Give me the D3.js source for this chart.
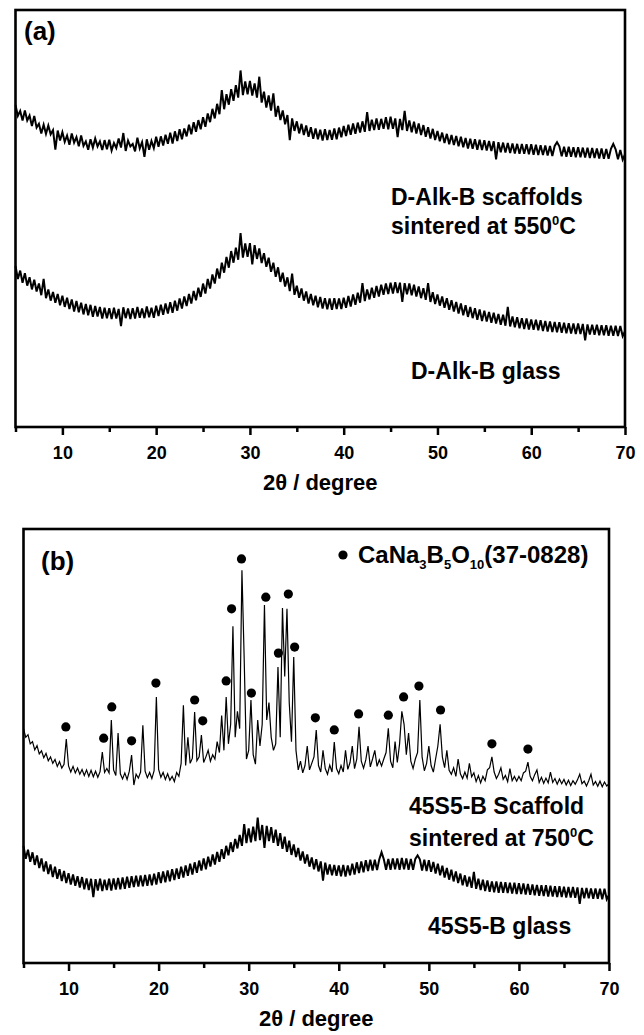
<!DOCTYPE html>
<html>
<head>
<meta charset="utf-8">
<script src="https://cdn.jsdelivr.net/npm/d3@7"></script>
<style>
  body { margin: 0; background: #fff; }
  svg { display: block; font-family: "Liberation Sans", Arial, sans-serif; font-weight: bold; }
</style>
</head>
<body>
<svg id="chart" width="644" height="1035"></svg>
<script>
"use strict";

// XRD patterns, sampled every 0.25 deg of 2-theta from 5 to 70 (a.u., offset as plotted)
const twoThetaStart = 5;
const twoThetaStep = 0.25;

// (a) D-Alk-B scaffolds sintered at 550 C
const dAlkScaffold = [
  77.2, 74.6, 75.8, 73.5, 75.9, 73.5, 74.7, 72.2, 74.6, 71.8, 72.7, 70.4, 72.5, 70.3, 72.3, 70.2, 71.2, 66.5, 71.1, 68.7,
  70.7, 68.4, 69.9, 67.7, 70.4, 68.2, 69.5, 67.3, 69.9, 67.4, 68.5, 66.5, 69.0, 67.0, 69.2, 67.3, 68.5, 66.4, 68.8, 66.6,
  68.9, 66.3, 68.1, 66.9, 69.2, 67.0, 70.5, 66.2, 68.7, 67.3, 67.9, 66.1, 69.4, 66.8, 68.3, 64.8, 69.0, 66.5, 68.6, 66.9,
  69.6, 67.2, 69.7, 67.5, 70.1, 67.9, 70.6, 68.0, 70.9, 68.6, 71.4, 69.0, 71.6, 69.7, 72.5, 70.2, 73.1, 70.8, 73.6, 71.4,
  74.3, 72.0, 75.2, 73.1, 76.3, 74.0, 77.5, 75.0, 80.8, 76.2, 79.8, 77.3, 81.0, 78.2, 82.0, 79.0, 85.5, 79.6, 82.9, 79.8,
  83.0, 79.5, 82.4, 79.0, 84.0, 77.8, 80.4, 76.6, 79.5, 75.9, 80.0, 74.4, 77.0, 73.6, 75.9, 72.6, 74.8, 68.8, 74.0, 71.0,
  73.3, 70.4, 72.7, 70.0, 72.3, 69.6, 71.9, 69.1, 71.6, 69.0, 71.3, 68.7, 71.4, 68.8, 71.2, 68.9, 71.6, 69.0, 71.8, 69.5,
  72.2, 69.8, 72.5, 70.1, 72.8, 70.3, 73.0, 70.6, 73.3, 70.8, 75.5, 71.0, 73.7, 71.2, 74.0, 71.3, 73.9, 71.5, 74.3, 71.4,
  74.4, 71.5, 74.0, 69.5, 73.9, 71.2, 75.8, 71.0, 73.5, 70.7, 73.2, 70.4, 72.8, 70.0, 72.4, 69.6, 71.9, 69.2, 71.5, 68.8,
  71.0, 68.5, 70.6, 68.1, 70.3, 67.8, 70.0, 67.6, 69.8, 67.3, 69.6, 67.1, 69.3, 66.8, 69.1, 66.7, 69.0, 66.5, 68.9, 66.4,
  68.8, 66.3, 68.6, 66.2, 68.5, 64.2, 68.3, 65.9, 68.2, 65.8, 68.1, 65.7, 68.0, 65.6, 67.9, 65.5, 67.9, 65.5, 67.8, 65.4,
  67.8, 65.3, 67.7, 65.2, 67.6, 65.2, 67.5, 65.1, 67.4, 65.0, 67.4, 68.3, 67.3, 64.9, 67.2, 64.8, 67.2, 64.8, 67.1, 64.7,
  67.1, 64.7, 67.0, 64.6, 67.0, 64.5, 66.9, 64.5, 66.8, 64.4, 66.8, 64.3, 66.7, 64.3, 66.7, 67.9, 66.6, 64.2, 66.4, 64.1, 65.4
];

// (a) D-Alk-B glass
const dAlkGlass = [
  38.6, 35.5, 37.5, 34.6, 36.9, 33.9, 35.9, 33.0, 35.3, 32.5, 34.4, 31.6, 35.5, 30.9, 33.0, 30.3, 32.4, 29.8, 31.9, 29.2,
  31.5, 28.8, 31.0, 28.3, 30.6, 27.7, 30.2, 27.5, 29.8, 27.0, 29.5, 26.8, 29.3, 26.4, 29.0, 26.5, 28.8, 26.0, 28.6, 26.1,
  28.5, 25.9, 28.6, 26.0, 28.3, 24.2, 28.7, 26.1, 28.4, 25.9, 28.5, 26.0, 28.8, 26.2, 28.4, 26.1, 28.9, 26.3, 28.6, 26.2,
  29.1, 26.6, 29.3, 26.9, 29.6, 27.2, 29.9, 27.4, 30.3, 27.9, 30.8, 28.4, 31.3, 29.0, 31.9, 29.6, 32.6, 30.4, 33.4, 31.2,
  34.4, 32.0, 35.5, 33.2, 36.6, 34.4, 38.0, 35.6, 39.4, 37.0, 40.8, 38.2, 42.2, 39.4, 43.0, 40.1, 46.5, 40.6, 44.0, 40.8,
  44.1, 39.0, 43.6, 40.3, 42.8, 39.3, 41.7, 38.4, 40.6, 37.2, 39.4, 36.0, 38.3, 34.8, 37.0, 33.7, 35.9, 32.6, 36.8, 31.7,
  33.9, 31.0, 33.2, 30.3, 32.5, 29.6, 31.9, 29.2, 31.5, 28.7, 31.2, 28.4, 30.9, 28.2, 30.8, 28.1, 30.9, 28.3, 30.8, 28.3,
  31.0, 28.6, 31.4, 28.9, 31.8, 29.3, 32.2, 29.8, 34.5, 30.2, 33.0, 30.6, 33.4, 31.0, 33.8, 31.3, 34.1, 31.7, 34.4, 31.9,
  34.6, 32.0, 34.7, 32.1, 34.6, 30.0, 34.5, 31.8, 34.4, 31.6, 34.1, 31.3, 33.7, 30.9, 33.3, 30.5, 34.5, 30.0, 32.3, 29.5,
  31.8, 29.1, 31.3, 28.6, 30.9, 28.1, 30.4, 27.7, 30.0, 27.2, 29.6, 26.8, 29.2, 26.4, 28.8, 26.1, 28.5, 25.7, 28.2, 25.4,
  27.9, 25.3, 27.6, 25.0, 27.4, 24.8, 27.1, 24.5, 26.9, 24.3, 28.8, 24.1, 26.5, 23.9, 26.3, 23.7, 26.1, 23.5, 26.0, 23.4,
  25.8, 23.3, 25.7, 23.2, 25.6, 23.0, 25.4, 22.9, 25.3, 22.8, 25.2, 22.7, 25.1, 22.6, 25.0, 22.5, 24.9, 22.4, 24.8, 22.3,
  24.8, 22.3, 24.7, 20.8, 24.6, 22.2, 24.5, 22.1, 24.5, 22.0, 24.4, 22.0, 24.4, 21.9, 24.3, 21.9, 24.3, 21.8, 24.2, 21.8, 23.0
];

// (b) 45S5-B scaffold sintered at 750 C
const s45Scaffold = [
  54.0, 52.0, 52.6, 50.5, 51.0, 49.1, 50.1, 48.2, 48.9, 47.3, 48.3, 46.6, 47.5, 46.0, 46.9, 45.3, 46.4, 44.9, 45.8, 51.6,
  45.4, 44.0, 45.3, 43.8, 44.9, 43.5, 44.6, 43.2, 44.5, 43.0, 44.4, 42.9, 44.2, 42.8, 44.1, 48.6, 43.9, 44.8, 43.8, 56.0,
  44.5, 43.2, 53.0, 43.6, 42.4, 43.8, 42.3, 44.2, 47.9, 41.0, 43.5, 42.6, 44.0, 54.8, 44.2, 42.7, 43.9, 42.5, 44.3, 61.3,
  44.6, 42.8, 43.9, 42.3, 43.6, 42.1, 43.0, 41.8, 43.9, 43.0, 46.0, 59.4, 45.5, 52.0, 46.0, 47.2, 57.8, 46.6, 47.5, 52.5,
  46.2, 47.5, 49.0, 46.5, 48.0, 47.0, 51.0, 48.5, 57.0, 49.0, 61.3, 50.5, 55.0, 77.6, 52.0, 58.0, 54.0, 90.5, 70.0, 47.0,
  49.0, 60.6, 48.0, 45.8, 56.0, 50.0, 55.0, 82.5, 56.0, 60.0, 52.0, 49.0, 50.5, 68.2, 52.0, 81.8, 66.0, 81.6, 60.0, 51.0,
  70.5, 49.0, 44.5, 46.5, 43.8, 45.5, 50.0, 44.5, 46.0, 47.5, 53.7, 45.5, 44.0, 49.0, 44.8, 43.5, 45.6, 44.0, 50.9, 44.8,
  43.6, 45.5, 44.0, 49.0, 44.6, 46.2, 50.0, 44.8, 47.0, 54.4, 46.5, 44.9, 46.8, 50.0, 45.2, 47.0, 49.0, 45.3, 46.8, 45.4,
  47.0, 48.5, 54.1, 46.5, 45.0, 51.0, 46.2, 50.5, 58.0, 55.0, 48.0, 53.0, 46.5, 44.8, 47.0, 48.5, 60.6, 47.5, 44.3, 46.0,
  50.0, 45.5, 44.0, 47.0, 50.0, 55.0, 47.5, 45.0, 49.0, 44.4, 43.5, 45.0, 43.0, 47.0, 43.6, 42.5, 44.0, 42.6, 46.0, 42.9,
  43.8, 41.8, 43.2, 41.5, 43.0, 42.0, 44.5, 45.0, 47.5, 44.0, 42.5, 43.5, 45.0, 42.3, 43.2, 41.8, 44.8, 42.0, 43.0, 41.9,
  43.0, 42.0, 43.8, 44.2, 46.3, 43.0, 42.0, 43.4, 44.5, 41.6, 42.8, 41.4, 42.6, 41.5, 44.0, 41.6, 42.5, 41.2, 42.4, 41.3,
  42.3, 41.0, 42.1, 40.9, 42.0, 41.2, 42.2, 43.5, 41.3, 41.9, 40.8, 42.0, 43.5, 41.0, 41.8, 40.7, 41.9, 40.6, 41.7, 40.8, 41.3
];

// (b) 45S5-B glass
const s45Glass = [
  27.0, 24.0, 26.1, 23.3, 25.5, 22.6, 24.8, 21.9, 24.1, 21.1, 23.4, 20.5, 22.7, 19.8, 22.2, 19.4, 21.6, 18.9, 21.2, 18.4,
  20.7, 18.1, 20.4, 17.8, 20.0, 17.4, 19.8, 17.0, 19.5, 16.8, 19.4, 15.2, 19.3, 16.7, 19.4, 16.6, 19.2, 16.8, 19.4, 16.7,
  19.5, 16.9, 19.6, 17.0, 19.7, 17.1, 19.9, 17.3, 20.0, 17.5, 20.1, 17.6, 20.2, 17.7, 20.3, 17.8, 20.4, 17.9, 20.6, 18.1,
  20.9, 18.4, 21.1, 18.6, 21.3, 18.8, 21.6, 19.1, 21.8, 19.4, 22.2, 19.7, 22.5, 20.1, 22.9, 20.4, 23.2, 20.8, 23.6, 21.3,
  24.1, 21.6, 24.5, 22.2, 25.0, 22.7, 25.6, 23.3, 26.2, 24.0, 27.0, 24.8, 27.8, 25.6, 28.6, 26.4, 29.5, 27.0, 32.0, 27.6,
  31.0, 27.8, 31.4, 28.1, 33.5, 28.3, 31.8, 26.5, 31.6, 28.1, 31.3, 27.7, 30.7, 27.0, 29.9, 26.3, 29.1, 25.6, 28.2, 24.9,
  27.3, 24.4, 26.5, 23.6, 25.7, 22.9, 25.0, 22.2, 24.3, 21.6, 23.9, 21.1, 23.4, 19.0, 23.1, 20.4, 22.7, 20.2, 22.6, 20.1,
  22.5, 20.0, 22.6, 19.9, 22.5, 20.2, 22.9, 20.4, 23.2, 20.7, 23.4, 20.9, 23.7, 21.2, 23.8, 21.3, 23.8, 21.4, 23.9, 25.5,
  23.9, 21.5, 24.0, 21.5, 24.1, 21.6, 24.1, 21.5, 24.2, 21.6, 24.1, 21.5, 24.0, 21.5, 24.0, 24.8, 23.9, 21.3, 23.8, 21.2,
  23.7, 21.0, 23.3, 20.6, 22.9, 20.2, 22.4, 19.7, 21.9, 19.2, 21.5, 18.8, 21.1, 18.4, 20.6, 17.9, 20.2, 17.6, 19.9, 17.3,
  21.0, 17.1, 19.4, 16.8, 19.2, 16.6, 19.0, 16.4, 18.8, 16.3, 18.8, 16.2, 18.7, 16.2, 18.6, 16.1, 18.5, 16.0, 18.5, 15.9,
  18.4, 15.9, 18.3, 15.8, 18.2, 15.7, 18.1, 15.6, 18.0, 15.5, 17.9, 15.4, 17.9, 15.3, 17.8, 15.3, 17.7, 15.2, 17.7, 15.2,
  17.6, 15.1, 17.5, 15.1, 17.5, 15.0, 17.4, 13.6, 17.3, 14.9, 17.3, 14.9, 17.2, 14.8, 17.2, 14.8, 17.1, 14.7, 17.1, 14.7, 15.7
];

// CaNa3B5O10 (37-0828) reflections marked with dots on the 45S5-B scaffold pattern
const markerAngles = [9.7, 13.9, 14.8, 17.0, 19.7, 24.0, 24.9, 27.5, 28.1, 29.2, 30.3, 31.9,
                      33.3, 34.4, 35.1, 37.4, 39.5, 42.2, 45.5, 47.2, 48.9, 51.3, 57.0, 61.0];
const markerLevels = [54.4, 51.8, 59.0, 51.2, 64.5, 60.6, 55.8, 65.0, 81.6, 93.1, 62.2, 84.3,
                      71.4, 85.0, 72.8, 56.5, 53.7, 57.4, 57.1, 61.3, 63.8, 58.3, 50.5, 49.3];

const xMajorTicks = [10, 20, 30, 40, 50, 60, 70];
const xMinorTicks = [5, 15, 25, 35, 45, 55, 65];
const xTitle = "2\u03B8 / degree";

function drawPanel(svg, p) {
  const x = d3.scaleLinear().domain([5, 70]).range([p.left, p.right]);
  const y = d3.scaleLinear().domain([0, 100]).range([p.bottom, p.top]);
  const g = svg.append("g");

  const line = d3.line()
    .x((d, i) => x(twoThetaStart + i * twoThetaStep))
    .y(d => y(d));

  p.series.forEach((s, k) => {
    g.append("path")
      .datum(s)
      .attr("d", line)
      .attr("fill", "none")
      .attr("stroke", "#000")
      .attr("stroke-width", p.widths[k]);
  });

  if (p.markers) {
    g.selectAll("circle.mark")
      .data(markerAngles)
      .join("circle")
        .attr("class", "mark")
        .attr("cx", d => x(d))
        .attr("cy", (d, i) => y(markerLevels[i]))
        .attr("r", 4.6)
        .attr("fill", "#000");
  }

  // minor ticks
  g.append("g")
    .attr("transform", `translate(0,${p.bottom})`)
    .call(d3.axisBottom(x).tickValues(xMinorTicks).tickSize(5).tickFormat(""))
    .call(a => a.select(".domain").remove())
    .call(a => a.selectAll("line").attr("stroke-width", 2.5));

  // major ticks + labels
  g.append("g")
    .attr("transform", `translate(0,${p.bottom})`)
    .call(d3.axisBottom(x).tickValues(xMajorTicks).tickSize(8).tickPadding(11).tickFormat(d3.format("d")))
    .call(a => a.select(".domain").remove())
    .call(a => a.selectAll("line").attr("stroke-width", 2.5))
    .call(a => a.selectAll("text")
      .attr("font-size", 18)
      .attr("font-family", "Liberation Sans, Arial, sans-serif")
      .attr("font-weight", "bold")
      .attr("fill", "#000"));

  // frame
  g.append("rect")
    .attr("x", p.left).attr("y", p.top)
    .attr("width", p.right - p.left).attr("height", p.bottom - p.top)
    .attr("fill", "none").attr("stroke", "#000").attr("stroke-width", 2.6);

  g.append("text")
    .attr("x", (p.left + p.right) / 2).attr("y", p.bottom + 63)
    .attr("text-anchor", "middle").attr("font-size", 22)
    .text(xTitle);

  g.append("text")
    .attr("x", p.tagX).attr("y", p.tagY)
    .attr("font-size", 26)
    .text(p.tag);

  p.labels.forEach(l => {
    g.append("text")
      .attr("x", l.x).attr("y", l.y)
      .attr("font-size", 23)
      .html(l.html);
  });
}

const svg = d3.select("#chart");
const degC = "<tspan dy='-9' font-size='13'>0</tspan><tspan dy='9'>C</tspan>";

drawPanel(svg, {
  left: 15.5, right: 625, top: 10, bottom: 427,
  series: [dAlkScaffold, dAlkGlass],
  widths: [2, 2],
  markers: false,
  tag: "(a)", tagX: 24, tagY: 40,
  labels: [
    { x: 391, y: 205, html: "D-Alk-B scaffolds" },
    { x: 391, y: 234, html: "sintered at 550" + degC },
    { x: 411, y: 379, html: "D-Alk-B glass" }
  ]
});

drawPanel(svg, {
  left: 23.5, right: 609, top: 529, bottom: 963,
  series: [s45Scaffold, s45Glass],
  widths: [1.2, 2],
  markers: true,
  tag: "(b)", tagX: 41, tagY: 570,
  labels: [
    { x: 409, y: 814, html: "45S5-B Scaffold" },
    { x: 409, y: 846, html: "sintered at 750" + degC },
    { x: 428, y: 934, html: "45S5-B glass" }
  ]
});

// legend for the dot markers
const legend = svg.append("g");
legend.append("circle").attr("cx", 343).attr("cy", 555).attr("r", 4.6).attr("fill", "#000");
legend.append("text")
  .attr("x", 358).attr("y", 563).attr("font-size", 24)
  .html("CaNa<tspan dy='6' font-size='13'>3</tspan><tspan dy='-6'>B</tspan><tspan dy='6' font-size='13'>5</tspan><tspan dy='-6'>O</tspan><tspan dy='6' font-size='13'>10</tspan><tspan dy='-6'>(37-0828)</tspan>");
</script>
</body>
</html>
